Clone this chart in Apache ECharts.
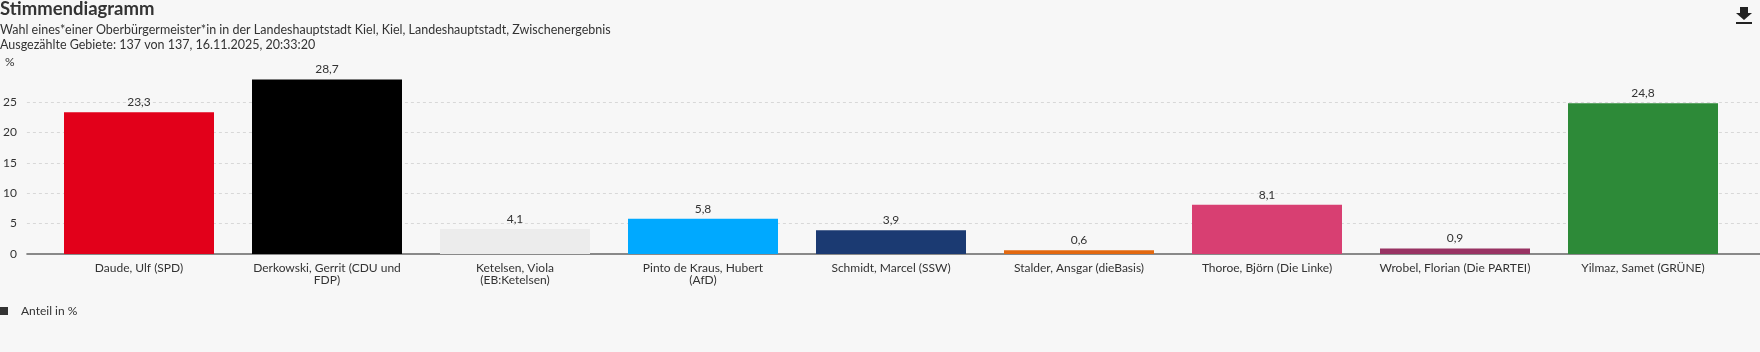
<!DOCTYPE html>
<html>
<head>
<meta charset="utf-8">
<script src="https://cdn.jsdelivr.net/npm/echarts@6/dist/echarts.min.js"></script>
<style>
  html, body { margin: 0; padding: 0; background: #f7f7f7; }
  #bar { width: 1760px; height: 352px; }
</style>
</head>
<body>
<div id="bar"></div>
<script>
var candidates = [
  'Daude, Ulf (SPD)',
  'Derkowski, Gerrit (CDU und\nFDP)',
  'Ketelsen, Viola\n(EB:Ketelsen)',
  'Pinto de Kraus, Hubert\n(AfD)',
  'Schmidt, Marcel (SSW)',
  'Stalder, Ansgar (dieBasis)',
  'Thoroe, Björn (Die Linke)',
  'Wrobel, Florian (Die PARTEI)',
  'Yilmaz, Samet (GRÜNE)'
];
var shares = [23.3, 28.7, 4.1, 5.8, 3.9, 0.6, 8.1, 0.9, 24.8];
var partyColors = ['#e2001a', '#000000', '#ececec', '#00a9ff', '#1b3a72', '#e2680f', '#d83f72', '#983363', '#2d8a38'];

var font = 'Lato, "Open Sans", sans-serif';
var myChart = echarts.init(document.getElementById('bar'));
var option = {
  backgroundColor: '#f7f7f7',
  textStyle: { fontFamily: font, color: '#333' },
  title: {
    text: 'Stimmendiagramm',
    subtext: 'Wahl eines*einer Oberbürgermeister*in in der Landeshauptstadt Kiel, Kiel, Landeshauptstadt, Zwischenergebnis\nAusgezählte Gebiete: 137 von 137, 16.11.2025, 20:33:20',
    left: 0,
    top: 0,
    padding: 0,
    itemGap: 3,
    textStyle: { fontFamily: font, fontSize: 18.5, fontWeight: 'bold', color: '#333' },
    subtextStyle: { fontFamily: font, fontSize: 12.5, color: '#333', lineHeight: 15 }
  },
  toolbox: {
    right: 8,
    top: 7,
    padding: 0,
    itemSize: 17,
    feature: {
      saveAsImage: {
        title: '',
        icon: 'path://M4,0 H12 V6 H16 L8,13 L0,6 H4 Z M0,15 H16 V17 H0 Z'
      }
    },
    iconStyle: { color: '#222', borderWidth: 0 }
  },
  legend: {
    left: 0,
    top: 305,
    padding: 0,
    icon: 'rect',
    itemWidth: 8,
    itemHeight: 8,
    textStyle: { fontFamily: font, fontSize: 12, color: '#333', padding: [0, 0, 0, 8] },
    data: ['Anteil in %']
  },
  graphic: [{
    type: 'text',
    left: 5,
    top: 56,
    style: { text: '%', fontFamily: font, fontSize: 12, fill: '#333' }
  }],
  grid: [
    { left: 22.7, right: 0, top: 71.6, bottom: 98 },
    { left: 45, right: 23, top: 71.6, bottom: 98 }
  ],
  xAxis: [
    {
      gridIndex: 0,
      type: 'value',
      min: 0,
      max: 1,
      axisLine: { show: true, onZero: false, lineStyle: { color: '#666', width: 1.5 } },
      axisTick: { show: false },
      axisLabel: { show: false },
      splitLine: { show: false }
    },
    {
      gridIndex: 1,
      type: 'category',
      data: candidates,
      axisLine: { show: false },
      axisTick: { show: false },
      axisLabel: { interval: 0, margin: 8, fontFamily: font, fontSize: 12, lineHeight: 12, color: '#333' }
    }
  ],
  yAxis: [
    {
      gridIndex: 0,
      type: 'value',
      min: 0,
      max: 30,
      interval: 5,
      axisLine: { show: false },
      axisTick: { show: false },
      axisLabel: { showMaxLabel: false, margin: 10, fontFamily: font, fontSize: 12, color: '#333' },
      splitLine: { showMaxLine: false, showMinLine: false, lineStyle: { color: '#d8d8d8', type: [3, 3] } }
    },
    {
      gridIndex: 1,
      type: 'value',
      min: 0,
      max: 30,
      show: false
    }
  ],
  series: [
    {
      name: 'Anteil in %',
      type: 'bar',
      xAxisIndex: 1,
      yAxisIndex: 1,
      barWidth: 150,
      itemStyle: { color: '#333' },
      label: {
        show: true,
        position: 'top',
        distance: 4,
        fontFamily: font,
        fontSize: 12,
        color: '#333',
        formatter: function (p) { return p.value.toFixed(1).replace('.', ','); }
      },
      data: shares.map(function (v, i) {
        return { value: v, itemStyle: { color: partyColors[i] } };
      })
    }
  ]
};
myChart.setOption(option);
</script>
</body>
</html>
